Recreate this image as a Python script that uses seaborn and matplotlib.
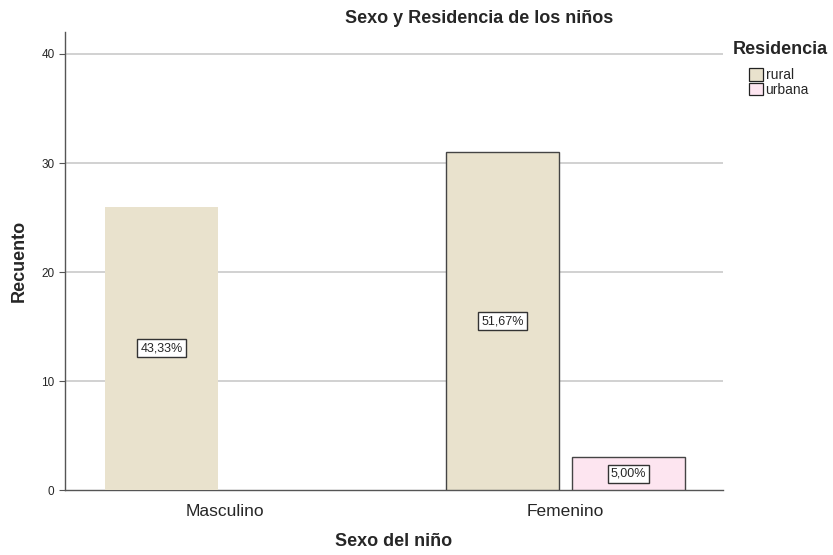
import pandas as pd
import matplotlib.pyplot as plt
import seaborn as sns

# data
sexo = ['Masculino', 'Masculino', 'Femenino', 'Femenino']
residencia = ['rural', 'urbana', 'rural', 'urbana']
recuento = [26, 0, 31, 3]
porcentaje = ['43,33%', '', '51,67%', '5,00%']
colores = {'rural': '#E9E2CD', 'urbana': '#FDE5F0'}

df = pd.DataFrame({'Sexo del niño': sexo, 'Residencia': residencia,
                   'Recuento': recuento, 'pct': porcentaje})

sns.set_style('white')
plt.rcParams['font.family'] = ['Liberation Sans', 'DejaVu Sans']

fig = plt.figure(figsize=(8.33, 5.55), dpi=100)
ax = fig.add_axes([0.078, 0.117, 0.79, 0.825])

sns.barplot(data=df, x='Sexo del niño', y='Recuento', hue='Residencia',
            order=['Masculino', 'Femenino'], hue_order=['rural', 'urbana'],
            palette=colores, saturation=1, width=0.74, gap=0.1, ax=ax, zorder=3,
            edgecolor='#444444', linewidth=1.0)

# bars come out in hue order: rural(M, F), urbana(M, F)
bars = ax.patches[:4]
for i, b in enumerate(bars):
    if b.get_height() == 0 or i == 0:
        b.set_linewidth(0)

orden = [('Masculino', 'rural'), ('Femenino', 'rural'),
         ('Masculino', 'urbana'), ('Femenino', 'urbana')]
for b, (s, r) in zip(bars, orden):
    fila = df[(df['Sexo del niño'] == s) & (df['Residencia'] == r)].iloc[0]
    if fila['pct']:
        ax.text(b.get_x() + b.get_width() / 2, b.get_height() / 2, fila['pct'],
                ha='center', va='center', fontsize=9, zorder=5,
                bbox=dict(boxstyle='square,pad=0.25', fc='white', ec='#333333', lw=1.0))

ax.set_xlim(-0.468, 1.462)
ax.set_ylim(0, 42)
ax.set_yticks([0, 10, 20, 30, 40])
for y in [10, 20, 30, 40]:
    ax.axhline(y, color='#CACACA', lw=1.2, zorder=1)

for s in ['top', 'right']:
    ax.spines[s].set_visible(False)
for s in ['left', 'bottom']:
    ax.spines[s].set_color('#555555')
    ax.spines[s].set_linewidth(1.0)
ax.tick_params(axis='y', length=4, width=0.8, color='#555555', labelsize=8.5, left=True)
ax.tick_params(axis='x', length=0, labelsize=12.5, pad=10)

fig.text(0.575, 0.966, 'Sexo y Residencia de los niños', fontsize=13,
         fontweight='bold', ha='center', va='center')
ax.set_ylabel('Recuento', fontsize=13, fontweight='bold', labelpad=10)
ax.set_xlabel('Sexo del niño', fontsize=13, fontweight='bold', labelpad=10)

# legend: title on its own, entries indented below it
fig.text(0.88, 0.910, 'Residencia', fontsize=13, fontweight='bold',
         ha='left', va='center')
handles, labels = ax.get_legend_handles_labels()
for hd in handles:
    hd.set_edgecolor('#222222')
    hd.set_linewidth(0.9)
leg = ax.legend(handles, labels, loc='upper left',
                bbox_to_anchor=(0.899, 0.877), bbox_transform=fig.transFigure,
                frameon=False, fontsize=10, handlelength=1.0, handleheight=1.0,
                handletextpad=0.2, labelspacing=0.05, borderaxespad=0, borderpad=0)

fig.savefig('out.png', dpi=100)
